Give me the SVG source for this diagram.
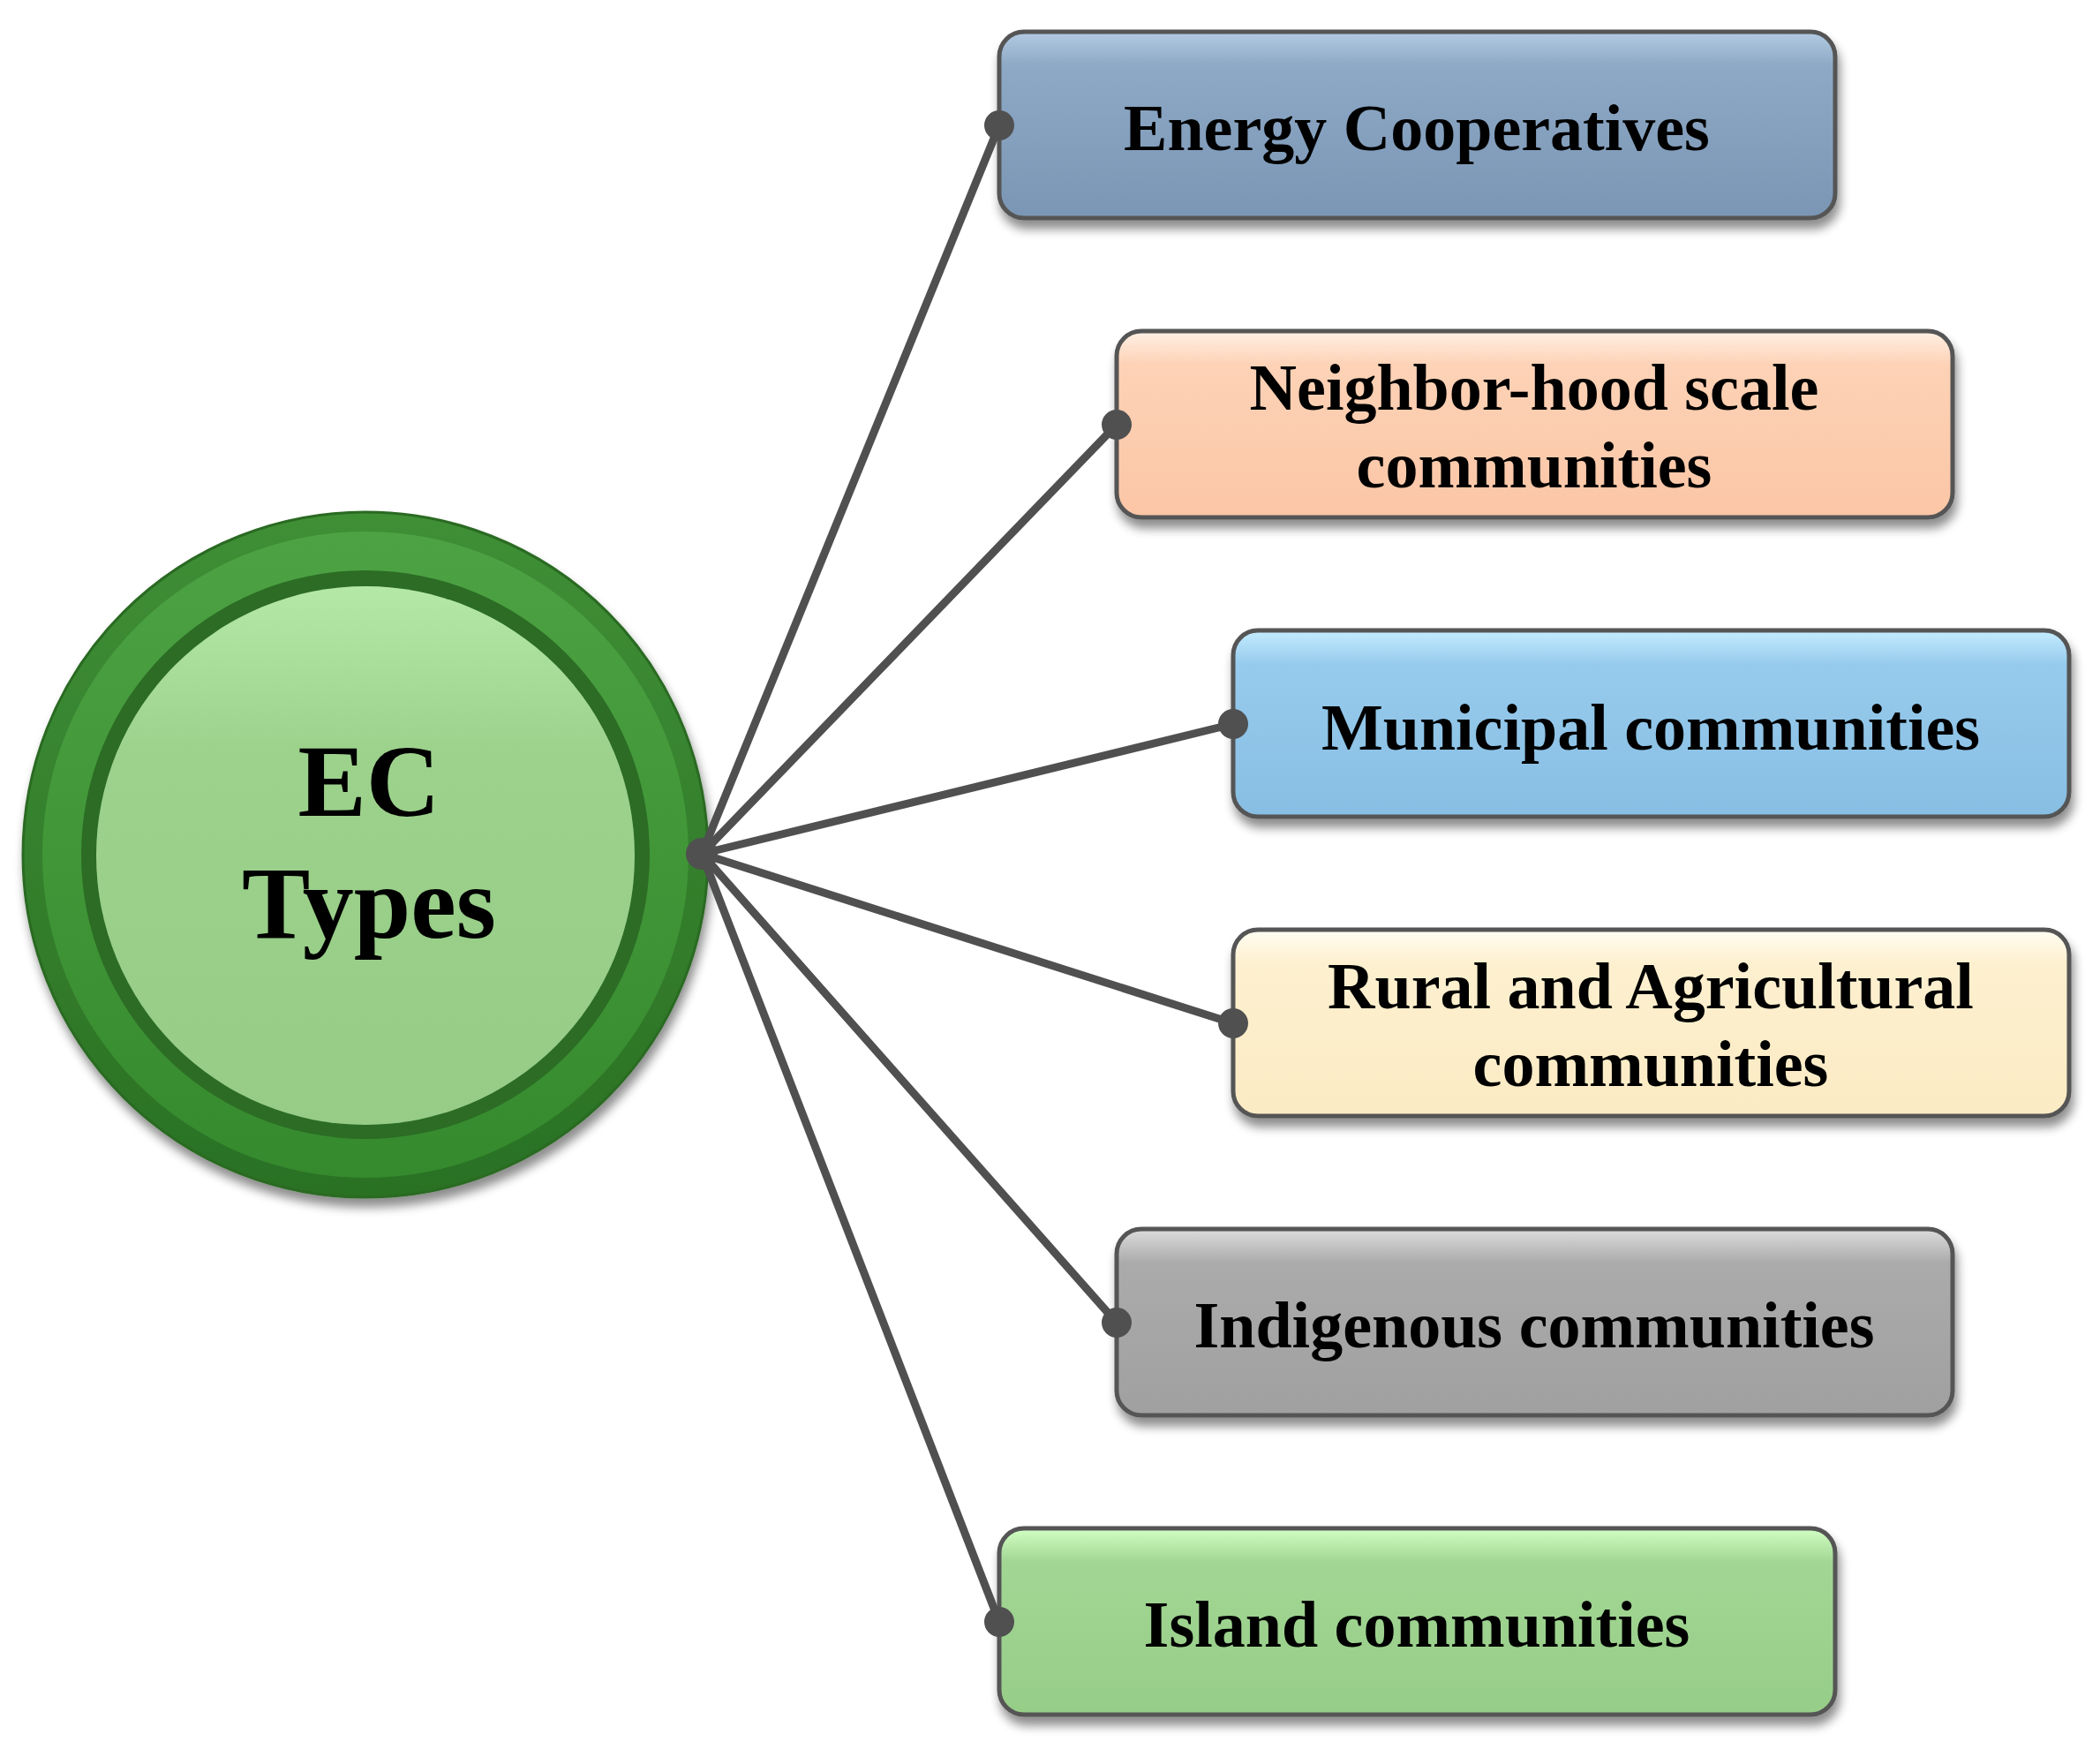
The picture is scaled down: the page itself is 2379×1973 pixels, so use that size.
<svg xmlns="http://www.w3.org/2000/svg" width="2379" height="1973" viewBox="0 0 2379 1973">
<defs>
<filter id="sh" x="-5%" y="-10%" width="110%" height="130%">
<feGaussianBlur in="SourceAlpha" stdDeviation="6"/>
<feOffset dx="3" dy="10" result="b"/>
<feComponentTransfer><feFuncA type="linear" slope="0.45"/></feComponentTransfer>
<feMerge><feMergeNode/><feMergeNode in="SourceGraphic"/></feMerge>
</filter>
<linearGradient id="g1" x1="0" y1="0" x2="0" y2="1"><stop offset="0" stop-color="#b3cbe2"/><stop offset="0.18" stop-color="#8ea9c6"/><stop offset="1" stop-color="#7a96b4"/></linearGradient>
<linearGradient id="g2" x1="0" y1="0" x2="0" y2="1"><stop offset="0" stop-color="#fff0e4"/><stop offset="0.18" stop-color="#fdd2b6"/><stop offset="1" stop-color="#fbc6a6"/></linearGradient>
<linearGradient id="g3" x1="0" y1="0" x2="0" y2="1"><stop offset="0" stop-color="#c4ecff"/><stop offset="0.18" stop-color="#97cbed"/><stop offset="1" stop-color="#88bee3"/></linearGradient>
<linearGradient id="g4" x1="0" y1="0" x2="0" y2="1"><stop offset="0" stop-color="#fffdf2"/><stop offset="0.18" stop-color="#fdf0cf"/><stop offset="1" stop-color="#fbebc4"/></linearGradient>
<linearGradient id="g5" x1="0" y1="0" x2="0" y2="1"><stop offset="0" stop-color="#dcdcdc"/><stop offset="0.18" stop-color="#ababab"/><stop offset="1" stop-color="#a0a0a0"/></linearGradient>
<linearGradient id="g6" x1="0" y1="0" x2="0" y2="1"><stop offset="0" stop-color="#d2ffc4"/><stop offset="0.18" stop-color="#a2d694"/><stop offset="1" stop-color="#96cd87"/></linearGradient>
<linearGradient id="gout" x1="0" y1="0" x2="0" y2="1"><stop offset="0" stop-color="#3f8f36"/><stop offset="1" stop-color="#2a7124"/></linearGradient>
<linearGradient id="gmid" x1="0" y1="0" x2="0" y2="1"><stop offset="0" stop-color="#4da343"/><stop offset="1" stop-color="#358a2d"/></linearGradient>
<linearGradient id="gin" x1="0" y1="0" x2="0" y2="1"><stop offset="0" stop-color="#b4e8a6"/><stop offset="0.3" stop-color="#9dd28d"/><stop offset="1" stop-color="#96cc86"/></linearGradient>
</defs>
<style>
.box{stroke:#555555;stroke-width:5}
.lbl{font-family:"Liberation Serif","Times New Roman",serif;font-weight:bold;font-size:74px;fill:#000000;text-anchor:middle}
.hub{font-family:"Liberation Serif","Times New Roman",serif;font-weight:bold;font-size:116px;fill:#000000;text-anchor:middle}
.con{stroke:#505050;stroke-width:9;fill:none;stroke-linecap:round}
.dot{fill:#505050}
</style>
<rect width="2379" height="1973" fill="#ffffff"/>
<g id="center">
<circle cx="414" cy="968" r="388" fill="url(#gout)" stroke="#2b6a24" stroke-width="3" filter="url(#sh)"/>
<circle cx="414" cy="968" r="366" fill="url(#gmid)"/>
<circle cx="414" cy="968" r="322" fill="#2c6c25"/>
<circle cx="414" cy="969" r="305" fill="url(#gin)"/>
<text class="hub" x="418" y="924">EC</text>
<text class="hub" x="418" y="1062">Types</text>
</g>
<g id="n1" filter="url(#sh)">
<rect class="box" x="1132" y="36" width="947" height="211" rx="28" fill="url(#g1)"/>
<text class="lbl" x="1605" y="170">Energy Cooperatives</text>
</g>
<g id="n2" filter="url(#sh)">
<rect class="box" x="1265" y="375" width="947" height="211" rx="28" fill="url(#g2)"/>
<text class="lbl" x="1738" y="464">Neighbor-hood scale</text>
<text class="lbl" x="1738" y="552">communities</text>
</g>
<g id="n3" filter="url(#sh)">
<rect class="box" x="1397" y="714" width="947" height="211" rx="28" fill="url(#g3)"/>
<text class="lbl" x="1870" y="849">Municipal communities</text>
</g>
<g id="n4" filter="url(#sh)">
<rect class="box" x="1397" y="1053" width="947" height="211" rx="28" fill="url(#g4)"/>
<text class="lbl" x="1870" y="1142">Rural and Agricultural</text>
<text class="lbl" x="1870" y="1230">communities</text>
</g>
<g id="n5" filter="url(#sh)">
<rect class="box" x="1265" y="1392" width="947" height="211" rx="28" fill="url(#g5)"/>
<text class="lbl" x="1738" y="1526">Indigenous communities</text>
</g>
<g id="n6" filter="url(#sh)">
<rect class="box" x="1132" y="1731" width="947" height="211" rx="28" fill="url(#g6)"/>
<text class="lbl" x="1605" y="1865">Island communities</text>
</g>
<g id="connectors">
<line class="con" x1="795" y1="967" x2="1132" y2="142"/>
<line class="con" x1="795" y1="967" x2="1265" y2="481"/>
<line class="con" x1="795" y1="967" x2="1397" y2="820"/>
<line class="con" x1="795" y1="967" x2="1397" y2="1159"/>
<line class="con" x1="795" y1="967" x2="1265" y2="1498"/>
<line class="con" x1="795" y1="967" x2="1132" y2="1837"/>
<circle class="dot" cx="795" cy="967" r="18"/>
<circle class="dot" cx="1132" cy="142" r="17"/>
<circle class="dot" cx="1265" cy="481" r="17"/>
<circle class="dot" cx="1397" cy="820" r="17"/>
<circle class="dot" cx="1397" cy="1159" r="17"/>
<circle class="dot" cx="1265" cy="1498" r="17"/>
<circle class="dot" cx="1132" cy="1837" r="17"/>
</g>
</svg>
